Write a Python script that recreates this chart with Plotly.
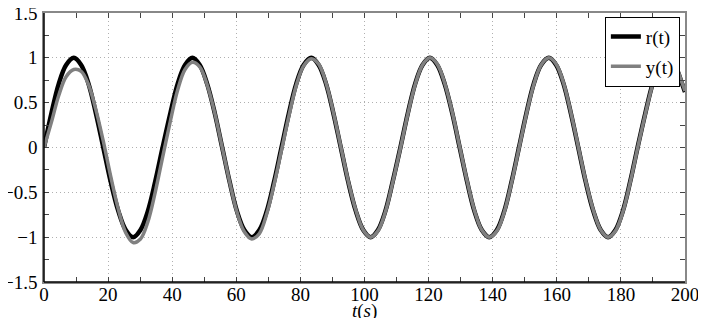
import plotly.graph_objects as go

t = [0, 2.3, 4.6, 6.9, 9.3, 11.6, 13.9, 16.2, 18.5, 20.8, 23.2, 25.5, 27.8, 30.1, 32.4, 34.7,
     37.0, 39.4, 41.7, 44.0, 46.3, 48.6, 50.9, 53.3, 55.6, 57.9, 60.2, 62.5, 64.8, 67.2, 69.5, 71.8,
     74.1, 76.4, 78.7, 81.0, 83.4, 85.7, 88.0, 90.3, 92.6, 94.9, 97.3, 99.6, 101.9, 104.2, 106.5, 108.8,
     111.2, 113.5, 115.8, 118.1, 120.4, 122.7, 125.0, 127.4, 129.7, 132.0, 134.3, 136.6, 138.9, 141.3, 143.6, 145.9,
     148.2, 150.5, 152.8, 155.1, 157.5, 159.8, 162.1, 164.4, 166.7, 169.0, 171.4, 173.7, 176.0, 178.3, 180.6, 182.9,
     185.2, 187.6, 189.9, 192.2, 194.5, 196.8, 199.1, 200.0]

r_vals = [0, 0.38, 0.71, 0.92, 1, 0.92, 0.71, 0.38, 0, -0.38, -0.71, -0.92, -1, -0.92, -0.71, -0.38,
          0, 0.38, 0.71, 0.92, 1, 0.92, 0.71, 0.38, 0, -0.38, -0.71, -0.92, -1, -0.92, -0.71, -0.38,
          0, 0.38, 0.71, 0.92, 1, 0.92, 0.71, 0.38, 0, -0.38, -0.71, -0.92, -1, -0.92, -0.71, -0.38,
          0, 0.38, 0.71, 0.92, 1, 0.92, 0.71, 0.38, 0, -0.38, -0.71, -0.92, -1, -0.92, -0.71, -0.38,
          0, 0.38, 0.71, 0.92, 1, 0.92, 0.71, 0.38, 0, -0.38, -0.71, -0.92, -1, -0.92, -0.71, -0.38,
          0, 0.38, 0.71, 0.92, 1, 0.92, 0.71, 0.62]

y_vals = [0, 0.28, 0.58, 0.79, 0.87, 0.85, 0.70, 0.42, 0.07, -0.32, -0.69, -0.95, -1.06, -1.02, -0.83, -0.50,
          -0.11, 0.29, 0.64, 0.87, 0.95, 0.90, 0.70, 0.38, 0.00, -0.38, -0.72, -0.94, -1.02, -0.96, -0.74, -0.41,
          -0.03, 0.35, 0.69, 0.91, 0.99, 0.93, 0.72, 0.39, 0.01, -0.37, -0.70, -0.92, -1.0, -0.93, -0.72, -0.39,
          -0.01, 0.37, 0.70, 0.92, 1.0, 0.93, 0.72, 0.39, 0.01, -0.37, -0.70, -0.92, -1.0, -0.93, -0.72, -0.39,
          -0.01, 0.37, 0.70, 0.92, 1.0, 0.93, 0.72, 0.39, 0.01, -0.37, -0.70, -0.92, -1.0, -0.93, -0.72, -0.39,
          -0.01, 0.37, 0.70, 0.92, 1.0, 0.93, 0.72, 0.63]

x_ticks = [0, 20, 40, 60, 80, 100, 120, 140, 160, 180, 200]
y_ticks = [-1.5, -1, -0.5, 0, 0.5, 1, 1.5]
y_tick_text = ["\u22121.5", "\u22121", "\u22120.5", "0", "0.5", "1", "1.5"]

FONT = "Liberation Serif"

fig = go.Figure()
fig.add_trace(go.Scatter(x=t, y=r_vals, mode="lines", name="r(t)", legendgroup="r",
                         line=dict(color="black", width=4.5, shape="spline")))
fig.add_trace(go.Scatter(x=t, y=y_vals, mode="lines", name="y(t)", legendgroup="y",
                         line=dict(color="#808080", width=3.5, shape="spline")))

axis_common = dict(
    showline=True, linecolor="#888888", linewidth=1.5, mirror="ticks",
    ticks="inside", ticklen=5, tickcolor="#444444", tickwidth=1,
    showgrid=True, gridcolor="#b0b0b0", griddash="1px,3px", gridwidth=1,
    zeroline=False, automargin=False, ticklabeloverflow="allow",
    tickfont=dict(family=FONT, size=19, color="black"),
)

fig.update_xaxes(range=[0, 200], tickvals=x_ticks, ticklabelstandoff=-6,
                 minor=dict(dtick=10, ticks="inside", ticklen=5, tickcolor="#444444", showgrid=False),
                 **axis_common)
fig.update_yaxes(range=[-1.5, 1.5], tickvals=y_ticks, ticktext=y_tick_text, ticklabelstandoff=1,
                 minor=dict(dtick=0.25, ticks="inside", ticklen=5, tickcolor="#444444", showgrid=False),
                 **axis_common)

# black left and bottom spines
fig.add_shape(type="line", xref="paper", yref="paper", x0=0, x1=1, y0=0, y1=0,
              line=dict(color="black", width=1.5))
fig.add_shape(type="line", xref="paper", yref="paper", x0=0, x1=0, y0=0, y1=1,
              line=dict(color="black", width=1.5))

fig.add_annotation(text="<i>t</i>(<i>s</i>)", xref="paper", yref="paper", x=0.5, y=0,
                   xanchor="center", yanchor="top", yshift=-16, showarrow=False,
                   font=dict(family=FONT, size=19, color="black"))

# page body has an 8px offset: figure is 698x310 so it ends at the window edge
fig.update_layout(
    width=698, height=310,
    margin=dict(l=36, r=21, t=5, b=36),
    plot_bgcolor="white", paper_bgcolor="white",
    font=dict(family=FONT, color="black"),
    legend=dict(x=0.992, y=0.986, xanchor="right", yanchor="top",
                bgcolor="white", bordercolor="black", borderwidth=1,
                font=dict(family=FONT, size=19, color="black"),
                tracegroupgap=2, itemwidth=30),
    showlegend=True,
)

fig.write_html("out.html")
